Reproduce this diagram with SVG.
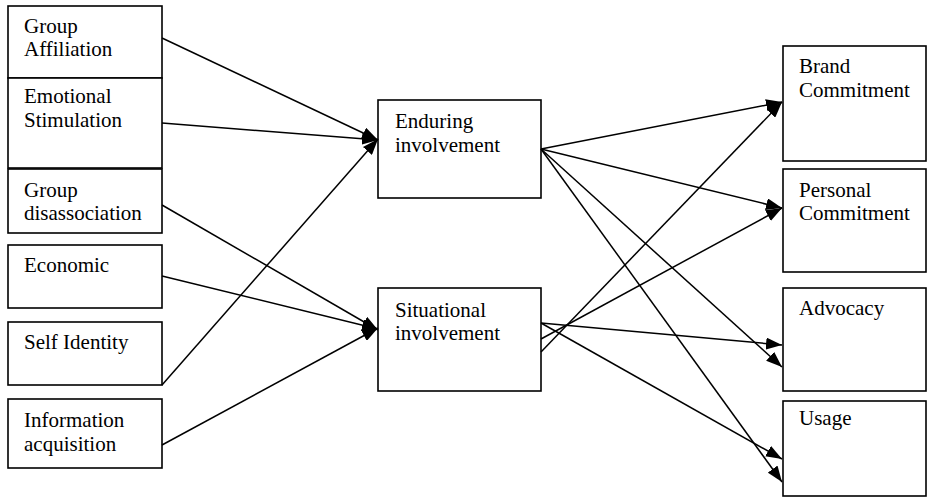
<svg xmlns="http://www.w3.org/2000/svg" width="927" height="497" viewBox="0 0 927 497">
<style>
.box{fill:#fff;stroke:#000;stroke-width:1.6}
.t{font-family:"Liberation Serif","Times New Roman",serif;font-size:21px;fill:#000}
.c line{stroke:#000;stroke-width:1.5;marker-end:url(#ah)}
</style>
<defs>
<marker id="ah" markerUnits="userSpaceOnUse" markerWidth="16" markerHeight="12" viewBox="0 0 16 12" refX="16" refY="6" orient="auto">
<path d="M0,0 L16,6 L0,12 Z" fill="#000"/>
</marker>
</defs>
<rect width="927" height="497" fill="#fff"/>
<g id="n-group-affiliation"><rect class="box" x="8" y="6" width="154" height="72"/><text class="t" x="24" y="33">Group</text><text class="t" x="24" y="56">Affiliation</text></g>
<g id="n-emotional-stimulation"><rect class="box" x="8" y="78" width="154" height="90"/><text class="t" x="24" y="103">Emotional</text><text class="t" x="24" y="127">Stimulation</text></g>
<g id="n-group-disassociation"><rect class="box" x="8" y="169" width="154" height="64"/><text class="t" x="24" y="197">Group</text><text class="t" x="24" y="220">disassociation</text></g>
<g id="n-economic"><rect class="box" x="8" y="245" width="154" height="63"/><text class="t" x="24" y="272">Economic</text></g>
<g id="n-self-identity"><rect class="box" x="8" y="322" width="154" height="63"/><text class="t" x="24" y="349">Self Identity</text></g>
<g id="n-information-acquisition"><rect class="box" x="8" y="399" width="154" height="69"/><text class="t" x="24" y="427">Information</text><text class="t" x="24" y="451">acquisition</text></g>
<g id="n-enduring"><rect class="box" x="378" y="100" width="163" height="98"/><text class="t" x="395" y="128">Enduring</text><text class="t" x="395" y="152">involvement</text></g>
<g id="n-situational"><rect class="box" x="378" y="288" width="163" height="103"/><text class="t" x="395" y="317">Situational</text><text class="t" x="395" y="340">involvement</text></g>
<g id="n-brand"><rect class="box" x="783" y="46" width="143" height="115"/><text class="t" x="799" y="73">Brand</text><text class="t" x="799" y="97">Commitment</text></g>
<g id="n-personal"><rect class="box" x="783" y="169" width="143" height="103"/><text class="t" x="799" y="197">Personal</text><text class="t" x="799" y="220">Commitment</text></g>
<g id="n-advocacy"><rect class="box" x="783" y="288" width="143" height="103"/><text class="t" x="799" y="315">Advocacy</text></g>
<g id="n-usage"><rect class="box" x="783" y="401" width="143" height="95"/><text class="t" x="799" y="425">Usage</text></g>
<g id="connectors" class="c">
<line x1="162" y1="38" x2="378" y2="140"/>
<line x1="162" y1="123" x2="378" y2="140"/>
<line x1="162" y1="385" x2="378" y2="139"/>
<line x1="162" y1="205" x2="378" y2="330"/>
<line x1="162" y1="276" x2="378" y2="329"/>
<line x1="162" y1="445" x2="378" y2="328"/>
<line x1="541" y1="149" x2="782" y2="102"/>
<line x1="541" y1="149" x2="782" y2="208"/>
<line x1="541" y1="149" x2="782" y2="367"/>
<line x1="541" y1="149" x2="782" y2="482"/>
<line x1="541" y1="323" x2="782" y2="345"/>
<line x1="541" y1="323" x2="782" y2="459"/>
<line x1="541" y1="339" x2="782" y2="208"/>
<line x1="541" y1="352" x2="782" y2="102"/>
</g>
</svg>
